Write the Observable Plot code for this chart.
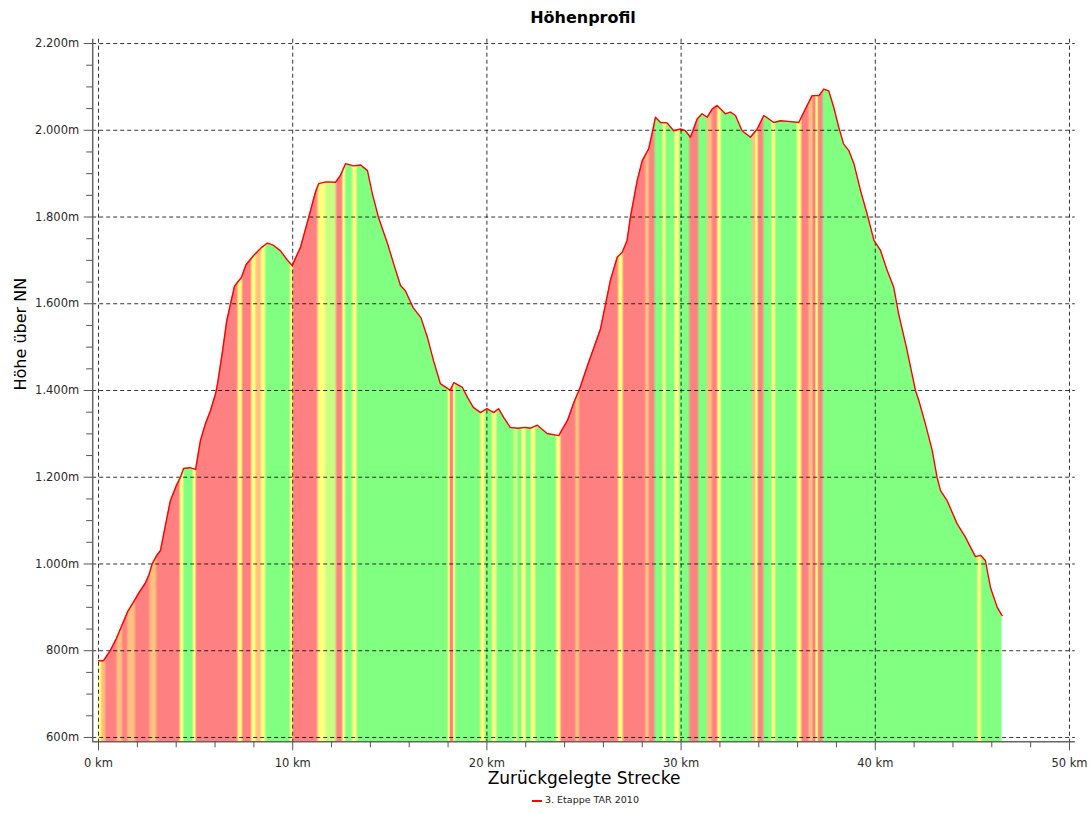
<!DOCTYPE html>
<html>
<head>
<meta charset="utf-8">
<script src="https://cdn.jsdelivr.net/npm/d3@7"></script>
<script src="https://cdn.jsdelivr.net/npm/@observablehq/plot@0.6"></script>
<style>
  body { margin: 0; background: #fff; font-family: "DejaVu Sans", sans-serif; }
  #wrap { position: relative; width: 1092px; height: 814px; overflow: hidden; }
  #title { position: absolute; top: 8px; left: 383px; width: 400px; text-align: center;
           font-weight: bold; font-size: 16px; color: #000; }
  #chart { position: absolute; top: 0; left: 0; }
  #legend { position: absolute; top: 794px; left: 532px; font-size: 9.5px; color: #222; white-space: nowrap; }
  #legend .sw { display: inline-block; width: 10px; height: 2px; background: #ff0000; vertical-align: middle; margin-right: 3px; }
</style>
</head>
<body>
<div id="wrap">
  <div id="chart"></div>
  <div id="title">Höhenprofil</div>
  <div id="legend"><span class="sw"></span><span id="legendText"></span></div>
</div>
<script>
// ---- data ----
const seriesName = "3. Etappe TAR 2010";

const distKm = [0, 0.26, 0.6, 0.9, 1.2, 1.5, 1.8, 2.1, 2.4, 2.6, 2.76, 3.0, 3.19, 3.45, 3.7, 4.0, 4.22, 4.38, 4.7, 5.0,
  5.25, 5.51, 5.77, 6.03, 6.13, 6.39, 6.6, 6.8, 7.0, 7.2, 7.35, 7.6, 8.0, 8.4, 8.7, 9.0, 9.37, 9.7, 9.97,
  10.4, 10.83, 11.17, 11.34, 11.7, 12.2, 12.46, 12.72, 13.13, 13.5, 13.85, 14.1, 14.42, 14.88, 15.2, 15.55, 15.8,
  16.2, 16.6, 16.94, 17.25, 17.6, 17.97, 18.1, 18.3, 18.74, 19.0, 19.3, 19.67, 20.0, 20.35, 20.6, 20.86, 21.2,
  21.58, 21.99, 22.25, 22.6, 23.1, 23.7, 24.15, 24.46, 24.8, 25.2, 25.6, 25.85, 26.36, 26.71, 26.97, 27.22,
  27.39, 27.74, 28.0, 28.33, 28.5, 28.68, 28.94, 29.28, 29.62, 29.97, 30.22, 30.48, 30.83, 31.08, 31.34, 31.6,
  31.85, 32.1, 32.28, 32.54, 32.8, 33.14, 33.57, 33.92, 34.26, 34.52, 34.77, 35.12, 35.63, 36.06, 36.4, 36.75,
  37.1, 37.35, 37.6, 37.86, 38.12, 38.37, 38.64, 38.9, 39.24, 39.58, 39.93, 40.27, 40.61, 40.95, 41.2, 41.6,
  42.07, 42.24, 42.58, 42.93, 43.18, 43.36, 43.7, 44.21, 44.64, 44.9, 45.16, 45.42, 45.67, 45.93, 46.28, 46.53];

const elevM = [777, 777, 800, 826, 858, 890, 912, 935, 955, 975, 1000, 1020, 1031, 1090, 1146, 1180, 1200, 1220, 1222, 1218,
  1285, 1324, 1354, 1393, 1416, 1492, 1560, 1600, 1640, 1652, 1660, 1690, 1712, 1730, 1740, 1735, 1722, 1702, 1688,
  1730, 1800, 1857, 1877, 1881, 1880, 1896, 1923, 1918, 1920, 1907, 1854, 1799, 1739, 1692, 1642, 1630,
  1591, 1568, 1522, 1469, 1416, 1405, 1400, 1418, 1407, 1384, 1361, 1349, 1358, 1349, 1358, 1338, 1315,
  1313, 1315, 1313, 1320, 1301, 1296, 1331, 1370, 1407, 1460, 1510, 1542, 1654, 1707, 1719, 1746,
  1800, 1884, 1930, 1957, 1991, 2030, 2018, 2017, 1999, 2003, 1999, 1984, 2026, 2038, 2030, 2049,
  2057, 2046, 2038, 2042, 2034, 1999, 1984, 2003, 2034, 2026, 2018, 2022, 2020, 2018, 2049, 2080,
  2080, 2095, 2091, 2053, 2007, 1968, 1953, 1923, 1861, 1807, 1746, 1723, 1677, 1638, 1577, 1500,
  1400, 1377, 1323, 1262, 1200, 1169, 1146, 1093, 1062, 1039, 1017, 1020, 1008, 946, 900, 881];

// gradient stripes under the profile: start km and class (r = climb, o = mild climb, y = flat, l = light green, g = descent)
const stripeStartKm = [0, 0.15, 0.36, 0.96, 1.24, 1.5, 1.9, 2.65, 3.0, 4.22, 4.38, 4.9, 5.0, 7.2, 7.4, 7.9, 8.1, 8.4, 8.6,
  9.9, 10.0, 11.3, 11.7, 12.25, 12.6, 12.7, 13.1, 13.3, 18.05, 18.1, 18.3, 18.35, 19.7, 19.9, 20.3, 20.5, 21.4, 21.6,
  21.8, 22.0, 22.3, 22.5, 23.6, 23.8, 24.6, 24.75, 26.8, 27.0, 28.2, 28.35, 28.65, 29.1, 29.2, 29.7, 29.9, 30.45,
  30.9, 31.35, 31.6, 31.9, 32.05, 33.7, 33.85, 33.95, 34.25, 34.7, 34.85, 36.0, 36.2, 36.6, 36.8, 36.95, 37.05,
  37.3, 45.3, 45.45];
const stripeClass = ["y", "o", "r", "o", "r", "o", "r", "o", "r", "y", "g", "y", "r", "y", "r", "y", "o", "y", "g",
  "y", "r", "y", "l", "r", "y", "g", "y", "g", "y", "r", "y", "g", "y", "g", "y", "g", "l", "g",
  "y", "g", "y", "g", "y", "r", "o", "r", "y", "r", "o", "r", "g", "y", "g", "y", "g", "r",
  "g", "o", "r", "y", "g", "o", "y", "r", "g", "y", "g", "y", "r", "o", "r", "y", "r",
  "g", "y", "g"];
const stripeColors = {r: "#ff8080", o: "#ffc080", y: "#ffff80", l: "#c8ff80", g: "#80ff80"};

const xDomain = [-0.3, 50.3];
const yDomain = [590, 2210];
const xTicks = [0, 10, 20, 30, 40, 50];
const xMinor = [2, 4, 6, 8, 12, 14, 16, 18, 22, 24, 26, 28, 32, 34, 36, 38, 42, 44, 46, 48];
const yTicks = [600, 800, 1000, 1200, 1400, 1600, 1800, 2000, 2200];
const yMinor = [650, 700, 750, 850, 900, 950, 1050, 1100, 1150, 1250, 1300, 1350, 1450, 1500, 1550,
  1650, 1700, 1750, 1850, 1900, 1950, 2050, 2100, 2150];
const xTitle = "Zurückgelegte Strecke";
const yTitle = "Höhe über NN";

// ---- build ----
const profile = distKm.map((km, i) => ({km, m: elevM[i]}));
const fmtM = d => (d >= 1000 ? Math.floor(d / 1000) + "." + String(d % 1000).padStart(3, "0") : String(d)) + "m";

const W = 1092, H = 792;
const chart = Plot.plot({
  width: W, height: H,
  marginLeft: 92.2, marginRight: 17.2, marginTop: 38.7, marginBottom: 50.7,
  style: {fontFamily: "DejaVu Sans, sans-serif", fontSize: "11px", color: "#2a2a2a", background: "#fff"},
  x: {domain: xDomain, label: null},
  y: {domain: yDomain, label: null},
  marks: [
    Plot.areaY(profile, {x: "km", y1: yDomain[0], y2: "m", fill: "url(#stripes)"}),
    Plot.gridX(xTicks, {stroke: "#000", strokeOpacity: 0.8, strokeDasharray: "4,3"}),
    Plot.gridY(yTicks, {stroke: "#000", strokeOpacity: 0.8, strokeDasharray: "4,3"}),
    Plot.line(profile, {x: "km", y: "m", stroke: "#ff0000", strokeWidth: 1.4}),
    Plot.ruleX([xDomain[0]], {stroke: "#666", strokeWidth: 1.5}),
    Plot.ruleY([yDomain[0]], {stroke: "#666", strokeWidth: 1.5}),
    Plot.axisY(yTicks, {anchor: "left", tickSize: 8.5, tickPadding: 5, tickFormat: fmtM, fontSize: 11.5, stroke: "#555", label: null}),
    Plot.axisY(yMinor, {anchor: "left", tickSize: 6, fill: "none", stroke: "#555", label: null}),
    Plot.axisX(xTicks, {anchor: "bottom", tickSize: 9, tickPadding: 8, tickFormat: d => d + " km", fontSize: 11.5, stroke: "#555", label: null}),
    Plot.axisX(xMinor, {anchor: "bottom", tickSize: 6, fill: "none", stroke: "#555", label: null}),
    Plot.text([xTitle], {frameAnchor: "bottom", dy: 42, fontSize: 17, fill: "#000"}),
    Plot.text([yTitle], {frameAnchor: "left", dx: -72, rotate: -90, fontSize: 16, fill: "#000"})
  ]
});

// horizontal gradient for the stripes, positioned with Plot's x scale
const xs = chart.scale("x");
const gx0 = xs.apply(xDomain[0]), gx1 = xs.apply(xDomain[1]);
const ns = "http://www.w3.org/2000/svg";
const defs = document.createElementNS(ns, "defs");
const lg = document.createElementNS(ns, "linearGradient");
lg.setAttribute("id", "stripes");
lg.setAttribute("gradientUnits", "userSpaceOnUse");
lg.setAttribute("x1", gx0); lg.setAttribute("x2", gx1);
lg.setAttribute("y1", 0); lg.setAttribute("y2", 0);
const off = km => Math.max(0, Math.min(1, (xs.apply(km) - gx0) / (gx1 - gx0)));
const lastKm = distKm[distKm.length - 1];
stripeStartKm.forEach((a, i) => {
  const b = i + 1 < stripeStartKm.length ? stripeStartKm[i + 1] : lastKm;
  const blend = Math.min(0.08, (b - a) / 4);
  const c = stripeColors[stripeClass[i]];
  [[a + (i === 0 ? 0 : blend), c], [b - blend, c]].forEach(([k, col]) => {
    const s = document.createElementNS(ns, "stop");
    s.setAttribute("offset", off(k));
    s.setAttribute("stop-color", col);
    lg.appendChild(s);
  });
});
defs.appendChild(lg);
chart.insertBefore(defs, chart.firstChild);

document.getElementById("chart").appendChild(chart);
document.getElementById("legendText").textContent = seriesName;
</script>
</body>
</html>
